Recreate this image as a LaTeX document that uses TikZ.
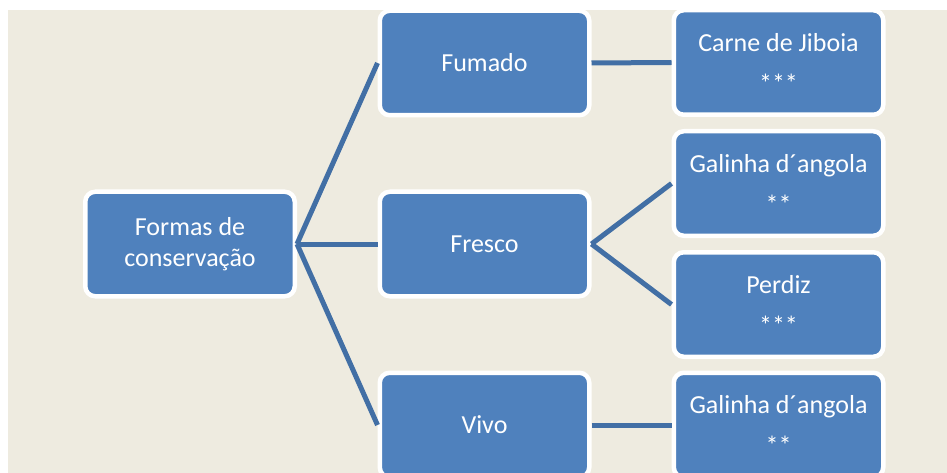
\documentclass[tikz,border=0pt]{standalone}
\usepackage{fontspec}
\setmainfont{Carlito}
\definecolor{boxblue}{HTML}{4F81BD}
\definecolor{linkblue}{HTML}{426FA5}
\definecolor{bgbeige}{HTML}{EEEBE0}
\begin{document}
\begin{tikzpicture}[x=1pt,y=-1pt,
  box/.style={rectangle, rounded corners=10pt, fill=boxblue, draw=white, line width=4.5pt,
    minimum width=209.5pt, minimum height=104.5pt, inner sep=0pt, text=white, align=center,
    font=\fontsize{26}{30.5}\selectfont},
  link/.style={draw=linkblue, line width=5pt}]
\useasboundingbox (0,0) rectangle (947,473);
\clip (0,0) rectangle (947,473);
\fill[white] (0,0) rectangle (947,473);
\fill[bgbeige] (8,10) rectangle (947,473);
\node[box] (root) at (190,244) {Formas de\\conservação};
\node[box] (fum) at (484.5,63) {Fumado};
\node[box] (fre) at (484.5,244) {Fresco};
\node[box] (viv) at (484.5,425) {Vivo};
\node[box] (carne) at (778.5,62.5) {Carne de Jiboia\\[10.5pt]***};
\node[box] (gal1) at (778.5,183.5) {Galinha d´angola\\[10.5pt]**};
\node[box] (per) at (778.5,304.5) {Perdiz\\[10.5pt]***};
\node[box] (gal2) at (778.5,425) {Galinha d´angola\\[10.5pt]**};
\draw[link] (root.east) -- (fum.west);
\draw[link] (root.east) -- (fre.west);
\draw[link] (root.east) -- (viv.west);
\draw[link] (fum.east) -- (carne.west);
\draw[link] (fre.east) -- (gal1.west);
\draw[link] (fre.east) -- (per.west);
\draw[link] (viv.east) -- (gal2.west);
\end{tikzpicture}
\end{document}
